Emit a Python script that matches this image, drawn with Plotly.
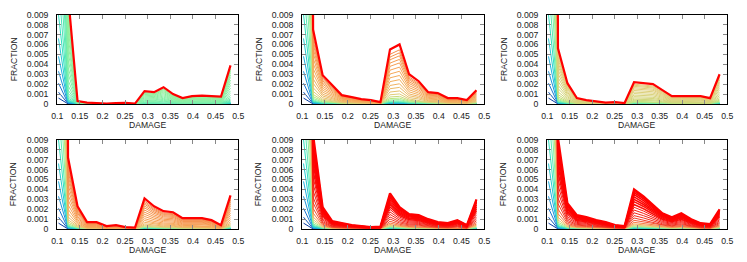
import plotly.graph_objects as go
from plotly.colors import sample_colorscale

# ---------------- data ----------------
damage = [0.103, 0.124, 0.145, 0.166, 0.187, 0.209, 0.230, 0.251, 0.272, 0.293,
          0.314, 0.335, 0.356, 0.377, 0.398, 0.420, 0.441, 0.462, 0.483]

final_1 = [0.300, 0.0110, 0.0003, 0.00015, 0.0001, 0.00005, 0.0001, 0.00012, 0.00005, 0.0013,
           0.0012, 0.0017, 0.0010, 0.0006, 0.0008, 0.00085, 0.0008, 0.00075, 0.0039]
final_2 = [0.300, 0.0075, 0.0029, 0.0019, 0.0009, 0.0007, 0.0005, 0.0004, 0.0002, 0.0055,
           0.0060, 0.0030, 0.0023, 0.0012, 0.0011, 0.0006, 0.0006, 0.0004, 0.0014]
final_3 = [0.300, 0.0056, 0.0021, 0.0006, 0.0004, 0.0003, 0.00015, 0.0002, 0.0001, 0.0022,
           0.0021, 0.0020, 0.0014, 0.0008, 0.0008, 0.0008, 0.0008, 0.0006, 0.0030]
final_4 = [0.300, 0.0072, 0.0023, 0.0007, 0.0007, 0.0003, 0.0004, 0.0002, 0.00015, 0.0031,
           0.0023, 0.0018, 0.0017, 0.0011, 0.0011, 0.0011, 0.0009, 0.0004, 0.0034]
final_5 = [0.300, 0.0095, 0.0022, 0.0008, 0.0006, 0.0004, 0.0003, 0.0002, 0.00025, 0.0036,
           0.0022, 0.0015, 0.0014, 0.0010, 0.0007, 0.0006, 0.0009, 0.0004, 0.0030]
final_6 = [0.300, 0.0092, 0.0026, 0.0014, 0.0012, 0.0009, 0.0007, 0.0004, 0.0003, 0.0040,
           0.0033, 0.0024, 0.0016, 0.0012, 0.0016, 0.0010, 0.0006, 0.0005, 0.0020]

# relative height of each curve of a family, last = final curve
levels_1 = [0.002, 0.004, 0.007, 0.011, 0.016, 0.022, 0.03, 0.04, 0.055, 0.075, 0.10, 0.13, 0.17,
            0.22, 0.28, 0.34, 0.41, 0.48, 0.55, 0.62, 0.69, 0.75, 0.81, 0.86, 0.90, 1.0]
levels_2 = [0.002, 0.004, 0.007, 0.011, 0.016, 0.022, 0.03, 0.04, 0.055, 0.075, 0.10, 0.13, 0.17,
            0.22, 0.28, 0.34, 0.41, 0.48, 0.55, 0.62, 0.69, 0.75, 0.81, 0.86, 0.91, 1.0]
levels_3 = [0.002, 0.004, 0.007, 0.011, 0.016, 0.022, 0.03, 0.04, 0.055, 0.075, 0.10, 0.13, 0.17,
            0.22, 0.28, 0.34, 0.41, 0.48, 0.55, 0.62, 0.69, 0.75, 0.81, 0.86, 0.91, 1.0]
levels_4 = [0.002, 0.004, 0.007, 0.011, 0.016, 0.022, 0.03, 0.04, 0.055, 0.075, 0.10, 0.13, 0.17,
            0.22, 0.28, 0.34, 0.41, 0.48, 0.55, 0.62, 0.69, 0.75, 0.81, 0.86, 0.91, 1.0]
levels_5 = [0.002, 0.004, 0.007, 0.011, 0.016, 0.022, 0.03, 0.04, 0.055, 0.075, 0.10, 0.13, 0.17,
            0.22, 0.28, 0.34, 0.41, 0.48, 0.55, 0.62, 0.69, 0.75, 0.81, 0.87, 0.92, 0.96, 1.0]
levels_6 = [0.002, 0.004, 0.007, 0.011, 0.016, 0.022, 0.03, 0.04, 0.055, 0.075, 0.10, 0.13, 0.17,
            0.22, 0.28, 0.34, 0.41, 0.48, 0.55, 0.62, 0.69, 0.75, 0.81, 0.87, 0.92, 0.96, 1.0]

# colour position (0 = blue ... 1 = red) of each curve
hues_1 = [0.0, 0.05, 0.10, 0.15, 0.20, 0.25, 0.30, 0.33, 0.35, 0.36, 0.37, 0.38, 0.39,
          0.40, 0.40, 0.41, 0.41, 0.42, 0.42, 0.42, 0.43, 0.43, 0.43, 0.44, 0.44, 1.0]
hues_2 = [0.0, 0.05, 0.10, 0.15, 0.20, 0.25, 0.30, 0.35, 0.40, 0.45, 0.50, 0.55, 0.60,
          0.63, 0.65, 0.67, 0.68, 0.69, 0.70, 0.71, 0.72, 0.72, 0.73, 0.74, 0.75, 1.0]
hues_3 = [0.0, 0.05, 0.10, 0.15, 0.20, 0.25, 0.30, 0.35, 0.40, 0.45, 0.50, 0.53, 0.55,
          0.56, 0.57, 0.57, 0.58, 0.58, 0.59, 0.59, 0.60, 0.60, 0.60, 0.61, 0.61, 1.0]
hues_4 = [0.0, 0.05, 0.10, 0.15, 0.20, 0.25, 0.30, 0.35, 0.42, 0.50, 0.57, 0.62, 0.66,
          0.68, 0.70, 0.71, 0.72, 0.72, 0.73, 0.73, 0.74, 0.74, 0.75, 0.75, 0.76, 1.0]
hues_5 = [0.0, 0.05, 0.10, 0.15, 0.20, 0.25, 0.30, 0.35, 0.42, 0.50, 0.60, 0.70, 0.78,
          0.84, 0.88, 0.91, 0.93, 0.95, 0.96, 0.97, 0.98, 0.99, 0.99, 1.0, 1.0, 1.0, 1.0]
hues_6 = [0.0, 0.05, 0.10, 0.15, 0.20, 0.25, 0.30, 0.35, 0.42, 0.50, 0.60, 0.70, 0.78,
          0.84, 0.88, 0.91, 0.93, 0.95, 0.96, 0.97, 0.98, 0.99, 0.99, 1.0, 1.0, 1.0, 1.0]

x_tickvals = [0.1, 0.15, 0.2, 0.25, 0.3, 0.35, 0.4, 0.45, 0.5]
x_ticktext = ["0.1", "0.15", "0.2", "0.25", "0.3", "0.35", "0.4", "0.45", "0.5"]
y_tickvals = [0, 0.001, 0.002, 0.003, 0.004, 0.005, 0.006, 0.007, 0.008, 0.009]
y_ticktext = ["0", "0.001", "0.002", "0.003", "0.004", "0.005", "0.006", "0.007", "0.008", "0.009"]

panels = [(final_1, levels_1, hues_1), (final_2, levels_2, hues_2), (final_3, levels_3, hues_3),
          (final_4, levels_4, hues_4), (final_5, levels_5, hues_5), (final_6, levels_6, hues_6)]

# ---------------- style ----------------
rainbow = [[0.0, "#0a3ca0"], [0.1, "#1e78d0"], [0.2, "#20b0e0"], [0.3, "#30e0c0"],
           [0.4, "#80f0a8"], [0.5, "#b8e880"], [0.6, "#e0cc78"], [0.7, "#f5a858"],
           [0.8, "#f57040"], [0.9, "#f03020"], [1.0, "#ff0000"]]

W, H = 747, 262
x_px = [(52, 236), (301, 486), (550, 733)]
y_px = [(10, 103), (140, 233)]
FONT = "Liberation Sans, Arial, sans-serif"

fig = go.Figure()
layout = dict(width=W, height=H, margin=dict(l=0, r=0, t=0, b=0),
              paper_bgcolor="white", plot_bgcolor="white", showlegend=False,
              font=dict(family=FONT, size=8.7, color="#222"))
annotations = []

for i, (final, levels, hues) in enumerate(panels):
    r, c = divmod(i, 3)
    n = i + 1
    xa = "x" if n == 1 else f"x{n}"
    ya = "y" if n == 1 else f"y{n}"
    cols = sample_colorscale(rainbow, hues)
    for j, (lv, col) in enumerate(zip(levels, cols)):
        last = j == len(levels) - 1
        wid = 2.2 if last else (1.5 if hues[j] >= 0.97 else 1.0)
        fig.add_trace(go.Scatter(x=damage, y=[lv * v for v in final], mode="lines",
                                 line=dict(color=col, width=wid), xaxis=xa, yaxis=ya,
                                 hoverinfo="skip"))
    x0, x1 = x_px[c]
    yt, yb = y_px[r]
    layout[f"xaxis{'' if n == 1 else n}"] = dict(
        domain=[x0 / W, x1 / W], anchor=ya, range=[0.1, 0.5],
        tickvals=x_tickvals, ticktext=x_ticktext, ticks="inside", ticklen=4,
        tickcolor="#888", showline=True, linecolor="black", linewidth=1,
        mirror="ticks", showgrid=False, zeroline=False, tickfont=dict(size=8.7),
        ticklabelstandoff=3)
    layout[f"yaxis{'' if n == 1 else n}"] = dict(
        domain=[(H - yb) / H, (H - yt) / H], anchor=xa, range=[0, 0.009],
        tickvals=y_tickvals, ticktext=y_ticktext, ticks="inside", ticklen=4,
        tickcolor="#888", showline=True, linecolor="black", linewidth=1,
        mirror="ticks", showgrid=False, zeroline=False, tickfont=dict(size=8.7),
        ticklabelstandoff=6)
    annotations.append(dict(text="DAMAGE", xref="paper", yref="paper",
                            x=(x0 + x1) / 2 / W, y=(H - (yb + 22)) / H,
                            showarrow=False, font=dict(size=8.6, color="#222"),
                            xanchor="center", yanchor="middle"))
    annotations.append(dict(text="FRACTION", xref="paper", yref="paper",
                            x=(x0 - 44) / W, y=(H - (yt + yb) / 2) / H, textangle=-90,
                            showarrow=False, font=dict(size=8.6, color="#222"),
                            xanchor="center", yanchor="middle"))

layout["annotations"] = annotations
fig.update_layout(**layout)
fig.write_html("out.html", config={"displayModeBar": False},
               post_script="document.body.style.margin='0';")
